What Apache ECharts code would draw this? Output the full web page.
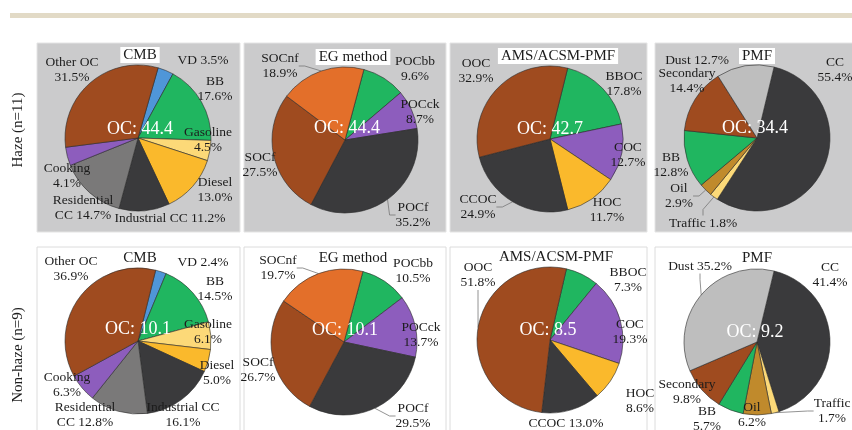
<!DOCTYPE html>
<html><head><meta charset="utf-8">
<script src="https://cdn.jsdelivr.net/npm/echarts@6/dist/echarts.min.js"></script>
<style>html,body{margin:0;padding:0;background:#fff}#c{width:852px;height:430px}</style>
</head><body><div id="c"></div>
<script>
// ---------- DATA ----------
const cmbCategories = ['VD','BB','Gasoline','Diesel','Industrial CC','Residential CC','Cooking','Other OC'];
const cmbHaze = [3.5,17.6,4.5,13.0,11.2,14.7,4.1,31.5];
const cmbNonHaze = [2.4,14.5,6.1,5.0,16.1,12.8,6.3,36.9];
const egCategories = ['POCbb','POCck','POCf','SOCf','SOCnf'];
const egHaze = [9.6,8.7,35.2,27.5,18.9];
const egNonHaze = [10.5,13.7,29.5,26.7,19.7];
const amsCategories = ['BBOC','COC','HOC','CCOC','OOC'];
const amsHaze = [17.8,12.7,11.7,24.9,32.9];
const amsNonHaze = [7.3,19.3,8.6,13.0,51.8];
const pmfCategories = ['CC','Traffic','Oil','BB','Secondary','Dust'];
const pmfHaze = [55.4,1.8,2.9,12.8,14.4,12.7];
const pmfNonHaze = [41.4,1.7,6.2,5.7,9.8,35.2];
const methodTitles = ['CMB','EG method','AMS/ACSM-PMF','PMF'];
const rowTitles = ['Haze (n=11)','Non-haze (n=9)'];
const ocHaze = [44.4,44.4,42.7,34.4];
const ocNonHaze = [10.1,10.1,8.5,9.2];

// ---------- STYLE / LAYOUT ----------
const GREEN='#20b660', PURPLE='#8d5dbd', BROWN='#9f4b1f', DARK='#3a3a3c', YEL='#fab92c', LYEL='#fcd978';
const colorMap = {
  'VD':'#4f96d8','BB':GREEN,'Gasoline':LYEL,'Diesel':YEL,'Industrial CC':DARK,'Residential CC':'#7a7979',
  'Cooking':PURPLE,'Other OC':BROWN,'POCbb':GREEN,'POCck':PURPLE,'POCf':DARK,'SOCf':BROWN,'SOCnf':'#e36f2a',
  'BBOC':GREEN,'COC':PURPLE,'HOC':YEL,'CCOC':DARK,'OOC':BROWN,'CC':DARK,'Traffic':LYEL,'Oil':'#c08a2c',
  'Secondary':BROWN,'Dust':'#bebebe'
};
const L='{n}\n{v}%', S='{n} {v}%', R='{n1}\n{n2} {v}%';
const panels = [
  {cats:cmbCategories, vals:cmbHaze, c:[138,138], start:74, row:0, col:0,
   labels:[[203,60,S],[215,89,L],[208,140,L],[215,190,L],[170,218,S],[83,208,R],[67,176,L],[72,70,L]]},
  {cats:egCategories, vals:egHaze, c:[345,140], start:75, row:0, col:1,
   labels:[[415,69,L],[420,112,L],[413,215,L,1],[260,165,L],[280,66,L,1]]},
  {cats:amsCategories, vals:amsHaze, c:[550,139], start:76, row:0, col:2,
   labels:[[624,84,L],[628,155,L],[607,210,L],[478,207,L,1],[476,71,L]]},
  {cats:pmfCategories, vals:pmfHaze, c:[757,138], start:76.5, row:0, col:3,
   labels:[[835,70,L],[703,223,S,1],[679,196,L,1],[671,165,L],[687,81,L],[697,60,S]]},
  {cats:cmbCategories, vals:cmbNonHaze, c:[138,341], start:76, row:1, col:0,
   labels:[[203,262,S],[215,289,L],[208,332,L],[217,373,L],[183,415,L],[85,415,R],[67,385,L],[71,269,L]]},
  {cats:egCategories, vals:egNonHaze, c:[344,342], start:75, row:1, col:1,
   labels:[[413,271,L],[421,335,L],[413,416,L,1],[258,370,L],[278,268,L,1]]},
  {cats:amsCategories, vals:amsNonHaze, c:[550,340], start:77, row:1, col:2,
   labels:[[628,280,L],[630,332,L],[640,401,L],[566,423,S],[478,275,L,1]]},
  {cats:pmfCategories, vals:pmfNonHaze, c:[757,342], start:76.5, row:1, col:3,
   labels:[[830,275,L],[832,411,L,1],[752,415,L],[707,419,L],[687,392,L],[700,266,S,1]]}
];
const R_PIE = 73;
const panelX = [[37,240],[244,446],[450,647],[655,853]];
const panelY = [[43,232],[247,436]];
const titlePos = [[[140,55],[353,57],[558,56],[757,56]],[[140,258],[353,258],[556,257],[757,258]]];
const ocPos = [[[140,129],[347,128],[550,129],[755,128]],[[138,329],[345,330],[548,330],[755,332]]];
const SERIF = '"Liberation Serif","Times New Roman",serif';

const series = panels.map((p, si) => ({
  type:'pie', center:p.c, radius:R_PIE, startAngle:p.start, clockwise:true,
  silent:true, animation:false, avoidLabelOverlap:false,
  label:{show:true, position:'outside', alignTo:'none', overflow:'none', bleedMargin:0,
    fontFamily:SERIF, fontSize:13.5, lineHeight:15, color:'#1c1c1c',
    formatter:(q)=>{
      const t = p.labels[q.dataIndex][2];
      const parts = q.name.split(' ');
      return t.replace('{n1}', parts[0]).replace('{n2}', parts.slice(1).join(' '))
              .replace('{n}', q.name).replace('{v}', q.value.toFixed(1));
    }},
  labelLine:{show:false},
  labelLayout:(q)=>{ const l = p.labels[q.dataIndex]; return {x:l[0], y:l[1], align:'center', verticalAlign:'middle'}; },
  itemStyle:{borderColor:'#2a2a2a', borderWidth:0.6},
  emphasis:{disabled:true},
  data:p.cats.map((n,i)=>({name:n, value:p.vals[i], itemStyle:{color:colorMap[n]},
     labelLine:{show: !!p.labels[i][3], length:6, length2:6, lineStyle:{color:'#777', width:0.8}}}))
}));

const graphic = [];
graphic.push({type:'rect', shape:{x:10,y:13,width:842,height:5}, style:{fill:'#e2dac6'}, z:0});
for (let r=0;r<2;r++) for (let c=0;c<4;c++) {
  graphic.push({type:'rect', z:0,
    shape:{x:panelX[c][0], y:panelY[r][0], width:panelX[c][1]-panelX[c][0], height:panelY[r][1]-panelY[r][0]},
    style: r===0 ? {fill:'#cbcbcc', stroke:'#e4e4e4', lineWidth:1} : {fill:'#ffffff', stroke:'#dcdcdc', lineWidth:1}});
}
for (let r=0;r<2;r++) for (let c=0;c<4;c++) {
  const tp = titlePos[r][c];
  graphic.push({type:'text', z:50, x:tp[0], y:tp[1],
    style:{text:methodTitles[c], font:'15px '+SERIF, fill:'#1c1c1c', textAlign:'center', textVerticalAlign:'middle',
      backgroundColor: r===0 ? '#ffffff' : 'transparent', padding:[1,3,0,3]}});
  const op = ocPos[r][c];
  const v = (r===0 ? ocHaze : ocNonHaze)[c];
  graphic.push({type:'text', z:50, x:op[0], y:op[1],
    style:{text:'OC: '+v.toFixed(1), font:'18px '+SERIF, fill:'#ffffff', textAlign:'center', textVerticalAlign:'middle'}});
}
graphic.push({type:'text', z:50, x:18, y:130, rotation:Math.PI/2,
  style:{text:rowTitles[0], font:'15px '+SERIF, fill:'#1c1c1c', textAlign:'center', textVerticalAlign:'middle'}});
graphic.push({type:'text', z:50, x:18, y:355, rotation:Math.PI/2,
  style:{text:rowTitles[1], font:'15px '+SERIF, fill:'#1c1c1c', textAlign:'center', textVerticalAlign:'middle'}});

const chart = echarts.init(document.getElementById('c'), null, {renderer:'canvas'});
chart.setOption({animation:false, backgroundColor:'#ffffff', graphic:graphic, series:series});
</script></body></html>
